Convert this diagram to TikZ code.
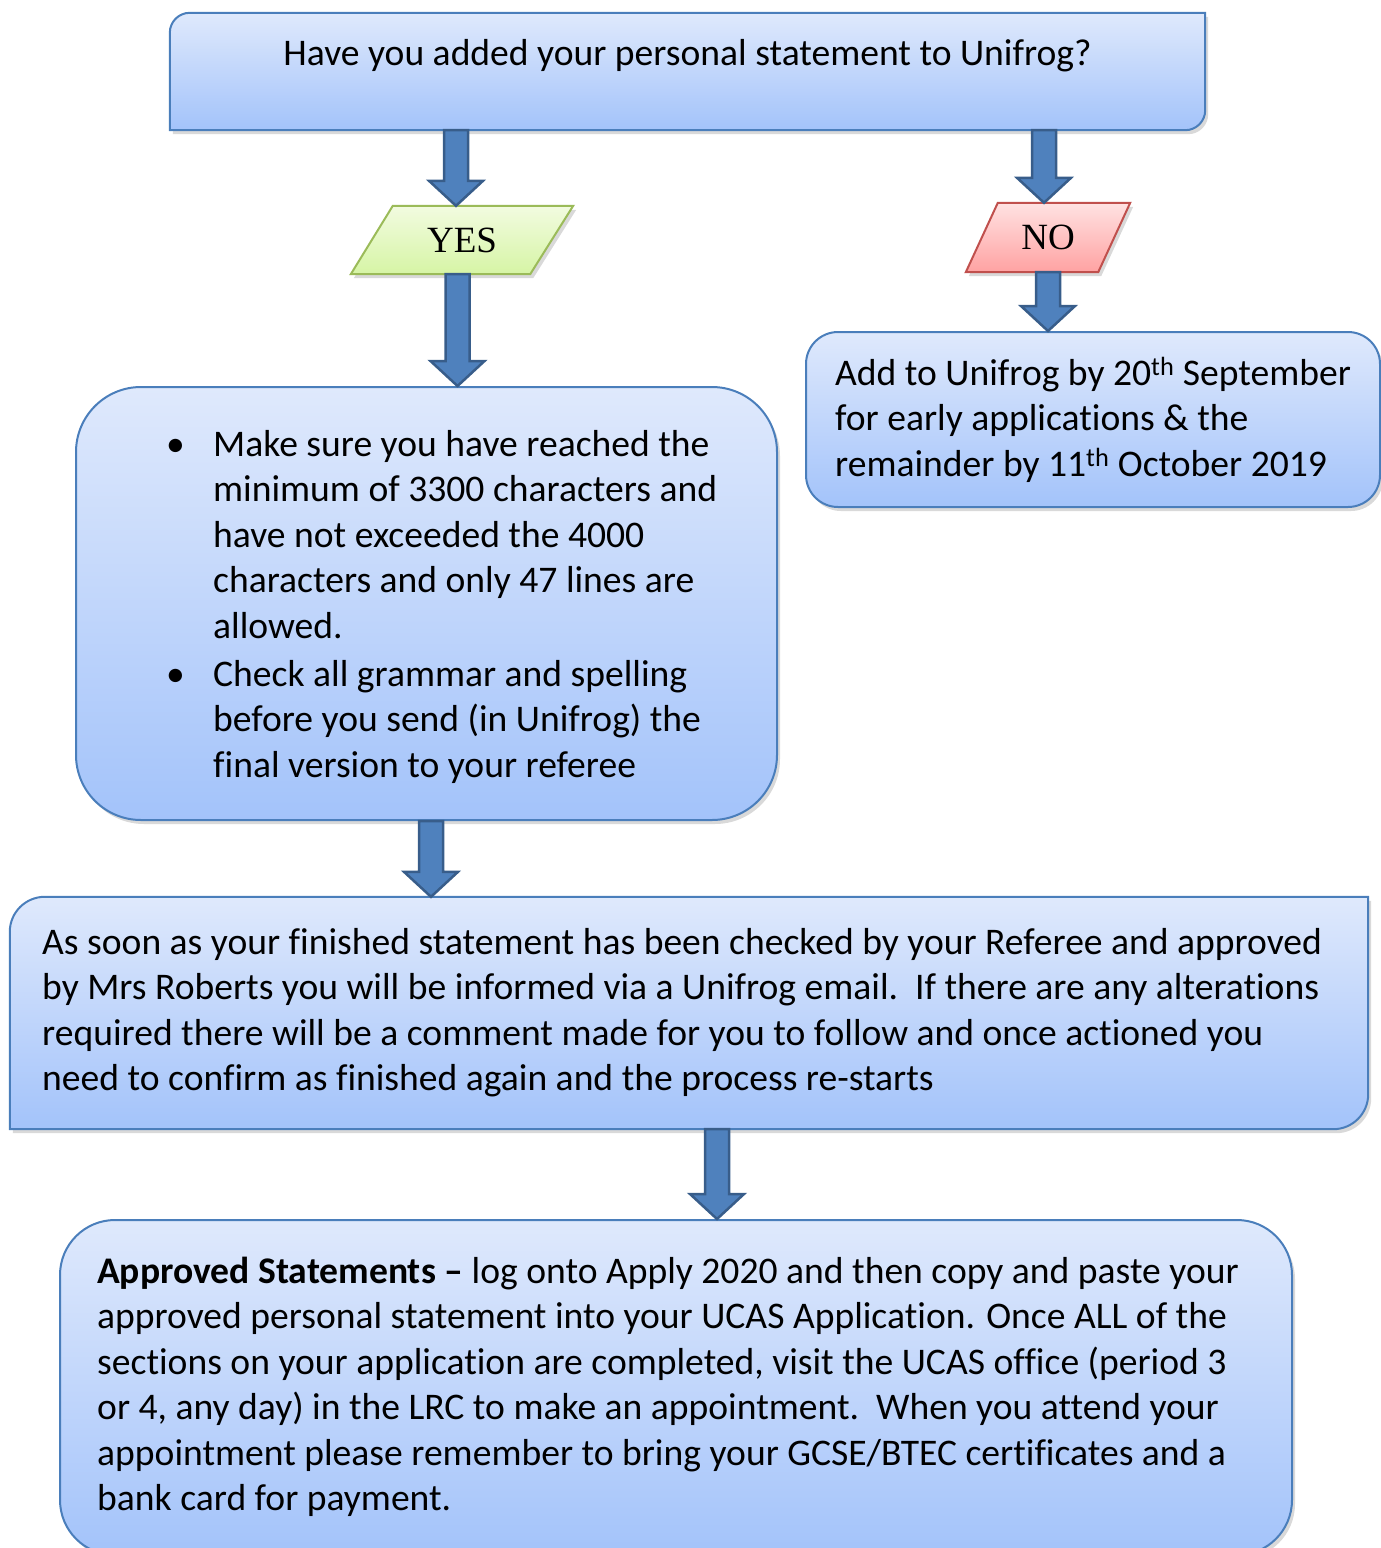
\documentclass[tikz,border=0pt]{standalone}
\usepackage{fontspec}
\setmainfont{Carlito}[Ligatures={TeX,NoCommon}]
\newfontfamily\ynfont{Liberation Serif}
\usetikzlibrary{calc, shadows, backgrounds}

\newcommand\flowarrow[3]{%
  \draw[blockarrow] let \p1=(#2), \p2=(#3) in
    (#1pt-12pt,\y1) -- (#1pt+12pt,\y1) -- (#1pt+12pt,\y2+25pt) -- (#1pt+27pt,\y2+25pt)
    -- (#1pt,\y2) -- (#1pt-27pt,\y2+25pt) -- (#1pt-12pt,\y2+25pt) -- cycle;}

\begin{document}
\begin{tikzpicture}[
    x=1pt, y=-1pt,
    every node/.style={font=\fontsize{37.6}{45.5}\selectfont, inner sep=0pt},
    softshadow/.style={drop shadow={shadow xshift=3pt, shadow yshift=-4pt, opacity=0.3}},
    boxstyle/.style={draw=boxline, line width=2pt, top color=boxtop, bottom color=boxbot, softshadow},
    roundbox/.style={boxstyle, rounded corners=#1},
    yesstyle/.style={draw=yesline, line width=2pt, top color=yestop, bottom color=yesbot, softshadow},
    nostyle/.style={draw=noline, line width=2pt, top color=notop, bottom color=nobot, softshadow},
    answer/.style={font=\ynfont\fontsize{37}{40}\selectfont},
    blockarrow/.style={fill=arrowfill, draw=arrowline, line width=2.5pt},
    txt/.style={anchor=base west},
  ]
  \definecolor{boxtop}{RGB}{223,233,252}
  \definecolor{boxbot}{RGB}{163,195,250}
  \definecolor{boxline}{RGB}{74,126,187}
  \definecolor{yestop}{RGB}{242,251,224}
  \definecolor{yesbot}{RGB}{214,245,165}
  \definecolor{yesline}{RGB}{155,187,89}
  \definecolor{notop}{RGB}{255,226,226}
  \definecolor{nobot}{RGB}{255,162,162}
  \definecolor{noline}{RGB}{192,80,77}
  \definecolor{arrowfill}{RGB}{79,129,189}
  \definecolor{arrowline}{RGB}{56,93,138}

  \useasboundingbox (0,0) rectangle (1381,1548);

  \node[minimum width=1035, minimum height=117] (q) at (687.5,71.5) {};
  \node[anchor=base] (qtext) at (687.5,65) {Have you added your personal statement to Unifrog?};

  \node[answer, minimum width=222, minimum height=68] (yes) at (462,240) {YES};
  \node[answer, minimum width=164, minimum height=69] (no) at (1048,237.5) {NO};

  \node[roundbox=65pt, minimum width=701, minimum height=433] (check) at (426.5,603.5) {};
  \node[txt] (checktext) at (166,456) {\begin{tabular}[t]{@{}l@{}l@{}}
      \makebox[47pt][l]{\textbullet} & Make sure you have reached the\\
      & minimum of 3300 characters and\\
      & have not exceeded the 4000\\
      & characters and only 47 lines are\\
      & allowed.\\[2.5pt]
      \makebox[47pt][l]{\textbullet} & Check all grammar and spelling\\
      & before you send (in Unifrog) the\\
      & final version to your referee
    \end{tabular}};

  \node[roundbox=32pt, minimum width=574, minimum height=175] (dates) at (1093,419.5) {};
  \node[txt] (datestext) at (835,385) {\begin{tabular}[t]{@{}l@{}}
      Add to Unifrog by 20\textsuperscript{th} September\\
      for early applications \& the\\
      remainder by 11\textsuperscript{th} October 2019
    \end{tabular}};

  \node[minimum width=1358, minimum height=232] (review) at (689,1013) {};
  \node[txt] (reviewtext) at (42,954) {\begin{tabular}[t]{@{}l@{}}
      As soon as your finished statement has been checked by your Referee and approved\\
      by Mrs Roberts you will be informed via a Unifrog email.\ \ If there are any alterations\\
      required there will be a comment made for you to follow and once actioned you\\
      need to confirm as finished again and the process re-starts
    \end{tabular}};

  \node[roundbox=55pt, minimum width=1232, minimum height=335] (ucas) at (676,1387.5) {};
  \node[txt] (ucastext) at (97,1283) {\begin{tabular}[t]{@{}l@{}}
      \textbf{Approved Statements \textendash} log onto Apply 2020 and then copy and paste your\\
      approved personal statement into your UCAS Application. Once ALL of the\\
      sections on your application are completed, visit the UCAS office (period 3\\
      or 4, any day) in the LRC to make an appointment.\ \ When you attend your\\
      appointment please remember to bring your GCSE/BTEC certificates and a\\
      bank card for payment.
    \end{tabular}};

  \begin{scope}[on background layer]
    \path[boxstyle] (q.south west) -- ([yshift=-20pt]q.north west)
      arc[start angle=180, end angle=90, radius=20pt] -- (q.north east)
      -- ([yshift=20pt]q.south east) arc[start angle=0, end angle=-90, radius=20pt] -- cycle;
    \path[boxstyle] (review.south west) -- ([yshift=-35pt]review.north west)
      arc[start angle=180, end angle=90, radius=35pt] -- (review.north east)
      -- ([yshift=35pt]review.south east) arc[start angle=0, end angle=-90, radius=35pt] -- cycle;
    \path[yesstyle] (yes.south west) -- ([xshift=42pt]yes.north west) -- (yes.north east)
      -- ([xshift=-43pt]yes.south east) -- cycle;
    \path[nostyle] (no.south west) -- ([xshift=32pt]no.north west) -- (no.north east)
      -- ([xshift=-32pt]no.south east) -- cycle;
  \end{scope}

  \flowarrow{456}{q.south}{yes.north}
  \flowarrow{1044}{q.south}{no.north}
  \flowarrow{457.5}{yes.south}{check.north}
  \flowarrow{1048}{no.south}{dates.north}
  \flowarrow{431}{check.south}{review.north}
  \flowarrow{717}{review.south}{ucas.north}
\end{tikzpicture}
\end{document}
